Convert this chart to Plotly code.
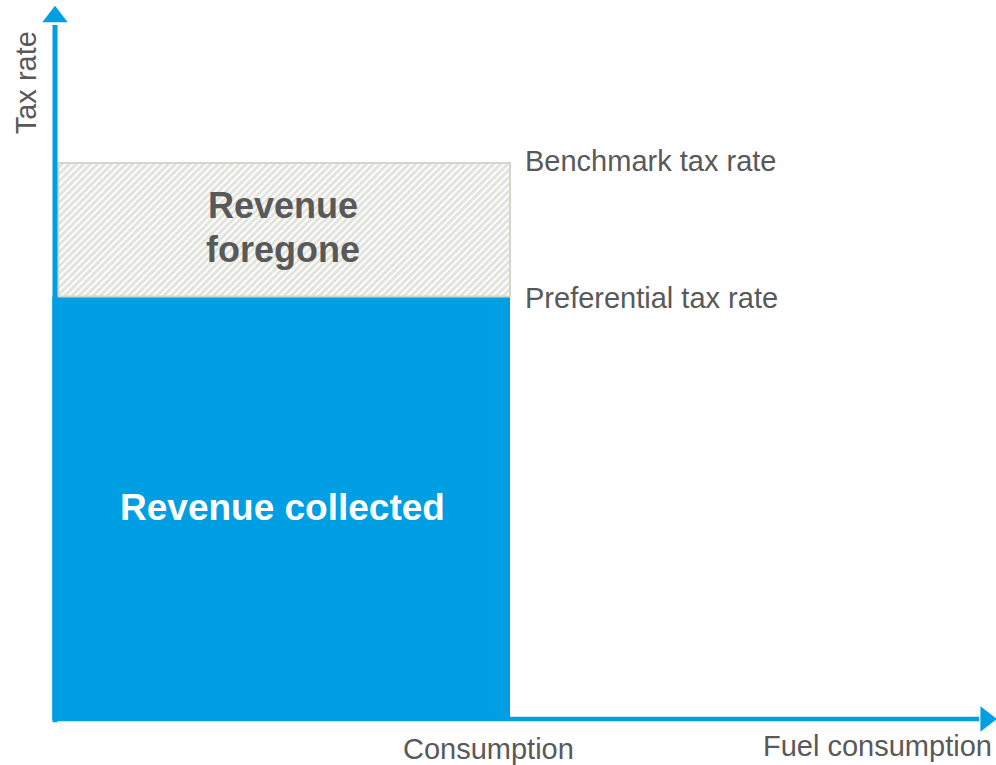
import plotly.graph_objects as go

# Conceptual data (arbitrary units)
consumption = 100          # fuel consumption quantity
benchmark_rate = 100       # benchmark tax rate
preferential_rate = 76     # preferential tax rate
axis_x_max = 204.6         # end of x axis arrow
axis_y_max = 126.3         # end of y axis arrow

labels_bold = ["Revenue collected", "Revenue", "foregone"]
labels_rate = ["Benchmark tax rate", "Preferential tax rate"]
axis_titles = ["Fuel consumption", "Tax rate"]
tick_label = "Consumption"

BLUE = "#009FE3"
GREY = "#595959"
HATCH = "#c3c8b9"
FONT = "Liberation Sans, Arial, sans-serif"

fig = go.Figure()

# Revenue collected (solid blue)
fig.add_trace(go.Scatter(
    x=[-0.6, consumption, consumption, -0.6, -0.6],
    y=[-0.2, -0.2, preferential_rate, preferential_rate, -0.2],
    mode="lines", fill="toself", fillcolor=BLUE,
    line=dict(color=BLUE, width=0), hoverinfo="skip", showlegend=False))

# Revenue foregone (hatched)
fig.add_trace(go.Scatter(
    x=[0.7, consumption, consumption, 0.7, 0.7],
    y=[preferential_rate, preferential_rate, benchmark_rate, benchmark_rate, preferential_rate],
    mode="lines", fill="toself", fillcolor="white",
    fillpattern=dict(shape="/", fgcolor=HATCH, bgcolor="white", size=5, solidity=0.6),
    line=dict(color="#d3d7cb", width=2), hoverinfo="skip", showlegend=False))

# Axes with arrows
fig.add_trace(go.Scatter(
    x=[0, 0], y=[-0.6, axis_y_max - 1.5], mode="lines",
    line=dict(color=BLUE, width=5), hoverinfo="skip", showlegend=False))
fig.add_trace(go.Scatter(
    x=[0], y=[axis_y_max], mode="markers",
    marker=dict(symbol="triangle-up", size=22, color=BLUE), hoverinfo="skip", showlegend=False))
fig.add_trace(go.Scatter(
    x=[0, axis_x_max - 1.5], y=[0, 0], mode="lines",
    line=dict(color=BLUE, width=4.5), hoverinfo="skip", showlegend=False))
fig.add_trace(go.Scatter(
    x=[axis_x_max], y=[0], mode="markers",
    marker=dict(symbol="triangle-right", size=22, color=BLUE), hoverinfo="skip", showlegend=False))

ann = []
ann.append(dict(x=consumption / 2, y=preferential_rate / 2, text=f"<b>{labels_bold[0]}</b>",
                font=dict(family=FONT, size=37, color="white"), showarrow=False))
mid = (benchmark_rate + preferential_rate) / 2
ann.append(dict(x=consumption / 2, y=mid, text=f"<b>{labels_bold[1]}</b>", yshift=24,
                font=dict(family=FONT, size=36, color=GREY), showarrow=False))
ann.append(dict(x=consumption / 2, y=mid, text=f"<b>{labels_bold[2]}</b>", yshift=-20,
                font=dict(family=FONT, size=36, color=GREY), showarrow=False))
ann.append(dict(x=consumption, y=benchmark_rate, text=labels_rate[0], xanchor="left", xshift=13,
                yshift=2, font=dict(family=FONT, size=29, color=GREY), showarrow=False))
ann.append(dict(x=consumption, y=preferential_rate, text=labels_rate[1], xanchor="left", xshift=13,
                yshift=-2, font=dict(family=FONT, size=29, color=GREY), showarrow=False))
ann.append(dict(x=consumption, y=0, text=tick_label, xanchor="center", xshift=-22, yanchor="top",
                yshift=-12, font=dict(family=FONT, size=29, color=GREY), showarrow=False))
ann.append(dict(x=axis_x_max, y=0, text=axis_titles[0], xanchor="right", xshift=8, yanchor="top",
                yshift=-9, font=dict(family=FONT, size=29, color=GREY), showarrow=False))
ann.append(dict(x=0, y=axis_y_max, text=axis_titles[1], textangle=-90, xanchor="right", xshift=-11,
                yanchor="top", yshift=-13, font=dict(family=FONT, size=29, color=GREY), showarrow=False))

W, H = 996, 765
px_x = 4.55
px_y = 5.56
x0 = -55 / px_x
y0 = -(H - 719) / px_y
fig.update_layout(
    width=W, height=H,
    margin=dict(l=0, r=0, t=0, b=0),
    paper_bgcolor="white", plot_bgcolor="white",
    xaxis=dict(range=[x0, x0 + W / px_x], visible=False, fixedrange=True),
    yaxis=dict(range=[y0, y0 + H / px_y], visible=False, fixedrange=True),
    annotations=ann,
    showlegend=False,
    hovermode=False,
)

fig.write_html(
    "out.html",
    config={"displayModeBar": False, "staticPlot": True},
    post_script="document.body.style.margin='0';document.body.style.overflow='hidden';",
)
